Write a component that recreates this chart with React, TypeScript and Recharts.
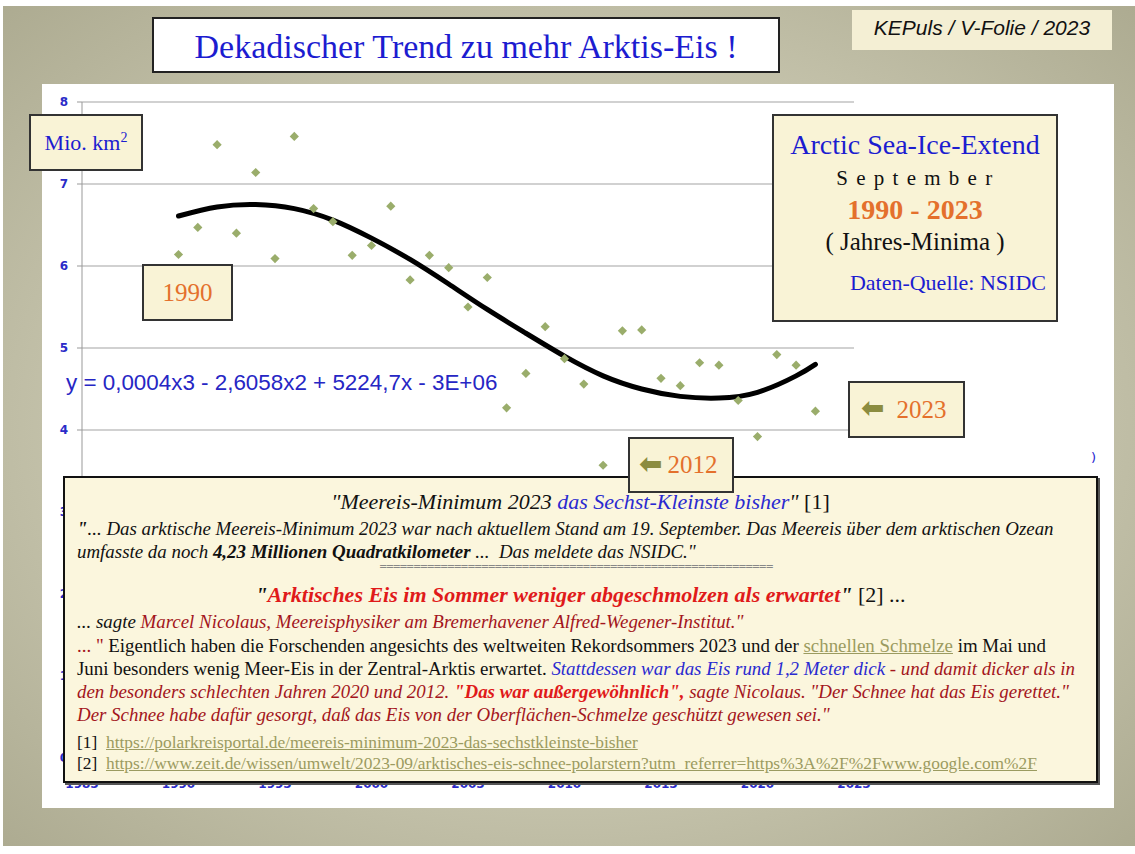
import React from 'react';
import { ComposedChart, Scatter, Line, XAxis, YAxis, CartesianGrid } from 'recharts';

// September minimum extent (Mio. km²)
const years = [
  1990, 1991, 1992, 1993, 1994, 1995, 1996, 1997, 1998, 1999, 2000, 2001,
  2002, 2003, 2004, 2005, 2006, 2007, 2008, 2009, 2010, 2011, 2012, 2013,
  2014, 2015, 2016, 2017, 2018, 2019, 2020, 2021, 2022, 2023,
];
const extent = [
  6.14, 6.47, 7.48, 6.4, 7.14, 6.09, 7.58, 6.7, 6.54, 6.13, 6.25, 6.73,
  5.83, 6.13, 5.98, 5.5, 5.86, 4.27, 4.69, 5.26, 4.87, 4.56, 3.57, 5.21,
  5.22, 4.63, 4.54, 4.82, 4.79, 4.36, 3.92, 4.92, 4.79, 4.23,
];

// cubic trend line
const trendYears = [1990, 1992, 1994, 1996, 1998, 2000, 2002, 2004, 2006, 2008, 2010, 2012, 2014, 2016, 2018, 2020, 2022, 2023];
const trendValues = [6.61, 6.72, 6.75, 6.7, 6.56, 6.34, 6.08, 5.78, 5.47, 5.18, 4.9, 4.66, 4.5, 4.41, 4.39, 4.46, 4.66, 4.8];

const xTicks = [1985, 1990, 1995, 2000, 2005, 2010, 2015, 2020, 2025];
const yTicks = [0, 1, 2, 3, 4, 5, 6, 7, 8];

const points = years.map((year, i) => ({ year, v: extent[i] }));
const trend = trendYears.map((year, i) => ({ year, v: trendValues[i] }));

const BLUE = '#1c1cd0';
const ORANGE = '#e4702c';
const RED = '#e01a1a';
const DARKRED = '#a3151c';
const LINK = '#9b9b60';
const CREAM = '#f9f3d6';
const SERIF = '"Liberation Serif", "Times New Roman", serif';

const Diamond = (props: any) => {
  const { cx, cy } = props;
  if (cx == null || cy == null) return null;
  const r = 4.6;
  return (
    <polygon
      points={`${cx},${cy - r} ${cx + r},${cy} ${cx},${cy + r} ${cx - r},${cy}`}
      fill="#9aad6b"
    />
  );
};

const Box = ({ x, y, w, h, children, style }: any) => (
  <div
    style={{
      position: 'absolute',
      left: x,
      top: y,
      width: w,
      height: h,
      boxSizing: 'border-box',
      background: CREAM,
      border: '2px solid #333',
      ...style,
    }}
  >
    {children}
  </div>
);

const line = (top: number, extra: any = {}) => ({
  position: 'absolute' as const,
  left: 12,
  top,
  whiteSpace: 'nowrap' as const,
  fontFamily: SERIF,
  fontSize: 18.9,
  lineHeight: '22px',
  color: '#111',
  ...extra,
});

const arrow = {
  color: '#8c8c40',
  fontFamily: '"DejaVu Sans", sans-serif',
  fontWeight: 700,
  fontSize: 28,
  verticalAlign: 'top',
} as const;

export default function App() {
  return (
    <div style={{ position: 'absolute', left: 0, top: 0, width: 1135, height: 854, background: '#fff', overflow: 'hidden' }}>
      {/* slide background */}
      <div
        style={{
          position: 'absolute',
          left: 3,
          top: 6,
          width: 1132,
          height: 840,
          background: 'radial-gradient(ellipse at 50% 50%, #d8d6c4 0%, #c8c6af 55%, #adab91 100%)',
        }}
      />
      {/* white chart panel */}
      <div style={{ position: 'absolute', left: 42, top: 84, width: 1072, height: 724, background: '#fff' }} />

      <div style={{ position: 'absolute', left: 0, top: 0 }}>
        <ComposedChart width={1135} height={854} margin={{ top: 102, right: 281, bottom: 66, left: 42 }}>
          <CartesianGrid horizontal vertical={false} stroke="#c2c2c2" strokeWidth={1.5} />
          <XAxis
            dataKey="year"
            type="number"
            domain={[1985, 2025]}
            ticks={xTicks}
            allowDataOverflow
            height={30}
            tickSize={5}
            tickMargin={16}
            stroke="#999"
            tick={{ fill: '#2b2bc8', fontSize: 12, fontWeight: 700, fontFamily: '"DejaVu Sans", sans-serif' }}
          />
          <YAxis
            dataKey="v"
            type="number"
            domain={[0, 8]}
            ticks={yTicks}
            width={40}
            tickSize={5}
            tickMargin={9}
            stroke="#999"
            tick={{ fill: '#2b2bc8', fontSize: 12, fontWeight: 700, fontFamily: '"DejaVu Sans", sans-serif' }}
          />
          <Scatter data={points} dataKey="v" shape={<Diamond />} isAnimationActive={false} />
          <Line
            data={trend}
            dataKey="v"
            type="natural"
            stroke="#000"
            strokeWidth={5}
            strokeLinecap="round"
            dot={false}
            activeDot={false}
            isAnimationActive={false}
          />
        </ComposedChart>
      </div>

      {/* trendline equation */}
      <div
        style={{
          position: 'absolute',
          left: 66,
          top: 370,
          fontFamily: '"Liberation Sans", Arial, sans-serif',
          fontSize: 22.4,
          color: '#2626c4',
          whiteSpace: 'nowrap',
        }}
      >
        y = 0,0004x3 - 2,6058x2 + 5224,7x - 3E+06
      </div>

      {/* title */}
      <div
        style={{
          position: 'absolute',
          left: 152,
          top: 17,
          width: 628,
          height: 56,
          boxSizing: 'border-box',
          background: '#fff',
          border: '2px solid #222',
          textAlign: 'center',
          fontFamily: SERIF,
          fontSize: 34,
          lineHeight: '56px',
          color: BLUE,
        }}
      >
        Dekadischer Trend zu mehr Arktis-Eis !
      </div>
      <div
        style={{
          position: 'absolute',
          left: 852,
          top: 10,
          width: 260,
          height: 40,
          background: '#f4efd4',
          fontFamily: '"Liberation Sans", Arial, sans-serif',
          fontStyle: 'italic',
          fontSize: 21,
          lineHeight: '36px',
          textAlign: 'center',
          color: '#111',
        }}
      >
        KEPuls / V-Folie / 2023
      </div>

      <Box x={29} y={114} w={114} h={57} style={{ textAlign: 'center', fontFamily: SERIF, fontSize: 22, lineHeight: '53px', color: BLUE }}>
        Mio. km<sup style={{ fontSize: 14, lineHeight: 0 }}>2</sup>
      </Box>

      <Box x={142} y={264} w={91} h={57} style={{ textAlign: 'center', fontFamily: SERIF, fontSize: 25, lineHeight: '53px', color: ORANGE }}>
        1990
      </Box>

      <Box x={772} y={114} w={286} h={208} style={{ fontFamily: SERIF, textAlign: 'center' }}>
        <div style={{ position: 'absolute', left: 0, right: 0, top: 13, fontSize: 28, color: BLUE }}>Arctic Sea-Ice-Extend</div>
        <div style={{ position: 'absolute', left: 0, right: 0, top: 50, fontSize: 21, letterSpacing: 1.5, color: '#111' }}>
          S e p t e m b e r
        </div>
        <div style={{ position: 'absolute', left: 0, right: 0, top: 78, fontSize: 28, fontWeight: 700, color: ORANGE }}>1990 - 2023</div>
        <div style={{ position: 'absolute', left: 0, right: 0, top: 112, fontSize: 25, color: '#111' }}>( Jahres-Minima )</div>
        <div style={{ position: 'absolute', right: 10, top: 154, fontSize: 22, color: BLUE }}>Daten-Quelle: NSIDC</div>
      </Box>

      <Box x={848} y={381} w={117} h={57} style={{ fontFamily: SERIF, fontSize: 25, lineHeight: '53px', color: ORANGE, whiteSpace: 'nowrap' }}>
        <span style={{ ...arrow, marginLeft: 11, lineHeight: '50px' }}>⬅</span>
        <span style={{ marginLeft: 12 }}>2023</span>
      </Box>

      <div style={{ position: 'absolute', left: 1091, top: 450, color: BLUE, fontFamily: '"DejaVu Sans", sans-serif', fontSize: 13 }}>)</div>

      {/* inset with quotes */}
      <div
        style={{
          position: 'absolute',
          left: 63,
          top: 476,
          width: 1035,
          height: 307,
          boxSizing: 'border-box',
          background: '#fbf6dd',
          border: '2.5px solid #111',
          boxShadow: '2px 2px 0 #555',
        }}
      >
        <div style={{ ...line(13, { left: 0, right: 0, textAlign: 'center', fontSize: 22 }) }}>
          <i>"Meereis-Minimum 2023 </i>
          <i style={{ color: '#2a2ad0' }}>das Sechst-Kleinste bisher</i>
          <i>"</i> [1]
        </div>
        <div style={line(40)}>
          <i>
            <b>"</b>... Das arktische Meereis-Minimum 2023 war nach aktuellem Stand am 19. September. Das Meereis über dem arktischen Ozean
          </i>
        </div>
        <div style={line(63)}>
          <i>
            umfasste da noch <b>4,23 Millionen Quadratkilometer</b> ...&nbsp; Das meldete das NSIDC."
          </i>
        </div>
        <div
          style={{
            position: 'absolute',
            left: 314,
            top: 84,
            whiteSpace: 'nowrap',
            fontFamily: '"DejaVu Sans", sans-serif',
            fontSize: 10,
            lineHeight: '10px',
            color: '#888',
            letterSpacing: -1.6,
          }}
        >
          {'='.repeat(58)}
        </div>
        <div style={{ ...line(106, { left: 0, right: 0, textAlign: 'center', fontSize: 22 }) }}>
          <b>
            <i>"</i>
            <i style={{ color: RED }}>Arktisches Eis im Sommer weniger abgeschmolzen als erwartet</i>
            <i>"</i>
          </b>{' '}
          [2] ...
        </div>
        <div style={line(133)}>
          <i>
            ... sagte <span style={{ color: DARKRED }}>Marcel Nicolaus, Meereisphysiker am Bremerhavener Alfred-Wegener-Institut."</span>
          </i>
        </div>
        <div style={line(157)}>
          <span style={{ color: DARKRED }}>... "</span> Eigentlich haben die Forschenden angesichts des weltweiten Rekordsommers 2023 und der{' '}
          <span style={{ color: LINK, textDecoration: 'underline' }}>schnellen Schmelze</span> im Mai und
        </div>
        <div style={line(180)}>
          Juni besonders wenig Meer-Eis in der Zentral-Arktis erwartet.{' '}
          <i style={{ color: '#2a2ad0' }}>Stattdessen war das Eis rund 1,2 Meter dick</i>
          <i style={{ color: DARKRED }}> - und damit dicker als in</i>
        </div>
        <div style={line(203, { color: DARKRED })}>
          <i>
            den besonders schlechten Jahren 2020 und 2012. <b style={{ color: RED }}>"Das war außergewöhnlich",</b> sagte Nicolaus. "Der
            Schnee hat das Eis gerettet."
          </i>
        </div>
        <div style={line(226, { color: DARKRED })}>
          <i>Der Schnee habe dafür gesorgt, daß das Eis von der Oberflächen-Schmelze geschützt gewesen sei."</i>
        </div>
        <div style={line(253, { fontSize: 17.4 })}>
          [1]&nbsp; <span style={{ color: LINK, textDecoration: 'underline' }}>https://polarkreisportal.de/meereis-minimum-2023-das-sechstkleinste-bisher</span>
        </div>
        <div style={line(274, { fontSize: 17.4 })}>
          [2]&nbsp; <span style={{ color: LINK, textDecoration: 'underline' }}>https://www.zeit.de/wissen/umwelt/2023-09/arktisches-eis-schnee-polarstern?utm_referrer=https%3A%2F%2Fwww.google.com%2F</span>
        </div>
      </div>

      <Box x={628} y={437} w={106} h={56} style={{ fontFamily: SERIF, fontSize: 25, lineHeight: '52px', color: ORANGE, whiteSpace: 'nowrap' }}>
        <span style={{ ...arrow, marginLeft: 9, lineHeight: '49px' }}>⬅</span>
        <span style={{ marginLeft: 5 }}>2012</span>
      </Box>
    </div>
  );
}
